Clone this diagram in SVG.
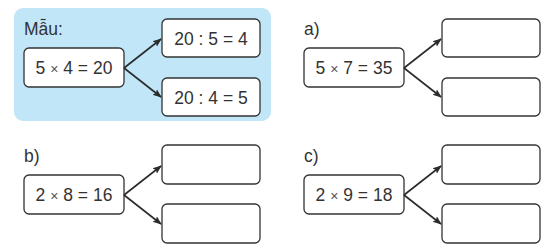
<svg xmlns="http://www.w3.org/2000/svg" width="551" height="249" viewBox="0 0 551 249">
<defs>
<marker id="ah" viewBox="0 0 10 10" refX="9" refY="5" markerWidth="9" markerHeight="9" markerUnits="userSpaceOnUse" orient="auto">
<path d="M0,1 L10,5 L0,9 L2,5 z" fill="#2b2b2b"/>
</marker>
</defs>
<style>
.box{fill:#fff;stroke:#333;stroke-width:1.3}
.t{font-family:"Liberation Sans",Arial,sans-serif;font-size:17.5px;fill:#333}
.c{text-anchor:middle}
.x{font-size:14px;fill:#555}
.conn line{stroke:#2b2b2b;stroke-width:1.6;marker-end:url(#ah)}
</style>
<rect x="14" y="8" width="257" height="113" rx="9" fill="#c0e6f8"/>
<text class="t" x="24" y="35">Mẫu:</text>
<text class="t" x="304" y="35">a)</text>
<text class="t" x="24" y="162">b)</text>
<text class="t" x="304" y="162">c)</text>
<g id="m-left"><rect class="box" x="24" y="48" width="100" height="39" rx="5"/><text class="t c" x="74" y="74">5 <tspan class="x">×</tspan> 4 = 20</text></g>
<g id="m-top"><rect class="box" x="162" y="19" width="98" height="38" rx="5"/><text class="t c" x="211" y="45">20 : 5 = 4</text></g>
<g id="m-bot"><rect class="box" x="162" y="78" width="98" height="38" rx="5"/><text class="t c" x="211" y="104">20 : 4 = 5</text></g>
<g id="a-left"><rect class="box" x="304" y="48" width="100" height="39" rx="5"/><text class="t c" x="354" y="74">5 <tspan class="x">×</tspan> 7 = 35</text></g>
<g id="a-top"><rect class="box" x="442" y="19" width="98" height="38" rx="5"/></g>
<g id="a-bot"><rect class="box" x="442" y="78" width="98" height="38" rx="5"/></g>
<g id="b-left"><rect class="box" x="24" y="175" width="100" height="39" rx="5"/><text class="t c" x="74" y="201">2 <tspan class="x">×</tspan> 8 = 16</text></g>
<g id="b-top"><rect class="box" x="162" y="145" width="98" height="39" rx="5"/></g>
<g id="b-bot"><rect class="box" x="162" y="204" width="98" height="39" rx="5"/></g>
<g id="c-left"><rect class="box" x="304" y="175" width="100" height="39" rx="5"/><text class="t c" x="354" y="201">2 <tspan class="x">×</tspan> 9 = 18</text></g>
<g id="c-top"><rect class="box" x="442" y="145" width="98" height="39" rx="5"/></g>
<g id="c-bot"><rect class="box" x="442" y="204" width="98" height="39" rx="5"/></g>
<g class="conn">
<line x1="124" y1="68" x2="161" y2="39"/>
<line x1="124" y1="68" x2="161" y2="97"/>
<line x1="404" y1="68" x2="441" y2="39"/>
<line x1="404" y1="68" x2="441" y2="97"/>
<line x1="124" y1="195" x2="161" y2="166"/>
<line x1="124" y1="195" x2="161" y2="224"/>
<line x1="404" y1="195" x2="441" y2="166"/>
<line x1="404" y1="195" x2="441" y2="224"/>
</g>
</svg>
